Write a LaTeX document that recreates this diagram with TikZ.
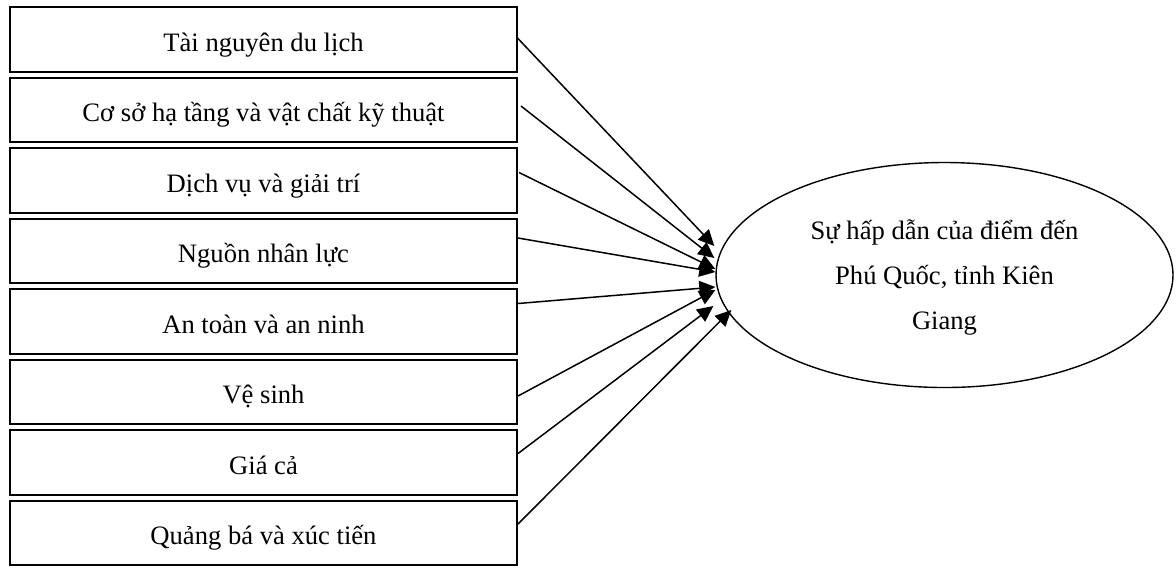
\documentclass[tikz,border=0pt]{standalone}
\usepackage{fontspec}
\setmainfont{Liberation Serif}
\usepackage{tikz}
\usetikzlibrary{shapes,arrows.meta,positioning,calc}

\begin{document}
\begin{tikzpicture}[
    x=0.5pt, y=-0.5pt,
    node distance=3pt,
    factor/.style={rectangle, draw, line width=0.9pt, outer sep=0pt, minimum width=253.5pt, minimum height=32.25pt, inner sep=0pt, text height=12.5pt, text depth=1pt, font=\fontsize{13.3}{15}\selectfont},
    outcome/.style={ellipse, draw, line width=0.7pt, minimum width=228.5pt, minimum height=112.5pt, inner sep=0pt, align=center, text depth=0pt, font=\fontsize{13.3}{22.5}\selectfont},
    arrow/.style={line width=0.75pt, -{Triangle[length=8pt,width=7.5pt]}}
]
\useasboundingbox (0,0) rectangle (1176,570);

% Factors
\node[factor] (tainguyen) at (263.5,39.5) {Tài nguyên du lịch};
\node[factor, below=of tainguyen] (coso) {Cơ sở hạ tầng và vật chất kỹ thuật};
\node[factor, below=of coso] (dichvu) {Dịch vụ và giải trí};
\node[factor, below=of dichvu] (nhanluc) {Nguồn nhân lực};
\node[factor, below=of nhanluc] (antoan) {An toàn và an ninh};
\node[factor, below=of antoan] (vesinh) {Vệ sinh};
\node[factor, below=of vesinh] (giaca) {Giá cả};
\node[factor, below=of giaca] (quangba) {Quảng bá và xúc tiến};

% Outcome
\node[outcome] (hapdan) at (944.5,275) {Sự hấp dẫn của điểm đến\\Phú Quốc, tỉnh Kiên\\Giang};

% Arrows
\draw[arrow] ($(tainguyen.east)+(0,-2)$) -- ($(hapdan.west)+(-1,-29)$);
\draw[arrow] ($(coso.east)+(4,-4)$) -- ($(hapdan.west)+(-1,-17)$);
\draw[arrow] ($(dichvu.east)+(2,-8)$) -- ($(hapdan.west)+(0,-6)$);
\draw[arrow] ($(nhanluc.east)+(1,-13)$) -- ($(hapdan.west)+(0,-3)$);
\draw[arrow] ($(antoan.east)+(1,-18)$) -- ($(hapdan.west)+(0,12)$);
\draw[arrow] ($(vesinh.east)+(1,4)$) -- ($(hapdan.west)+(0,15)$);
\draw[arrow] ($(giaca.east)+(1,-9)$) -- ($(hapdan.west)+(-2,31)$);
\draw[arrow] ($(quangba.east)+(1,-9)$) -- ($(hapdan.west)+(16,35)$);

\end{tikzpicture}
\end{document}
